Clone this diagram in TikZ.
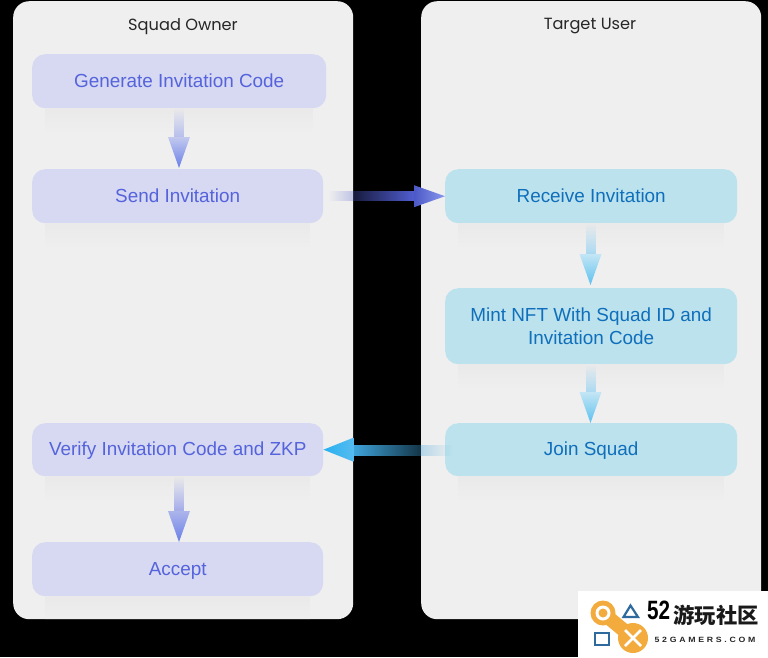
\documentclass[tikz,border=0pt]{standalone}
\usepackage{fontspec}
\setmainfont{Liberation Sans}
\newfontfamily\headfont{Poppins}
\newfontfamily\cjkfont{Noto Sans CJK SC}
\usetikzlibrary{calc,fadings}
\definecolor{panelc}{HTML}{EFEFEF}
\definecolor{lavc}{HTML}{D6D9F1}
\definecolor{lavt}{HTML}{5563DC}
\definecolor{cyc}{HTML}{BCE2ED}
\definecolor{cyt}{HTML}{0F6FBB}
\definecolor{orangec}{HTML}{F2AB3C}
\definecolor{bluec}{HTML}{2F6A9E}
\definecolor{lshaft}{HTML}{B4BCEC}
\definecolor{ltop}{HTML}{C2C9EE}
\definecolor{lbot}{HTML}{6A7FE8}
\definecolor{cshaft}{HTML}{A8D8F2}
\definecolor{ctop}{HTML}{C4E6F4}
\definecolor{cbot}{HTML}{5CC0F0}
\definecolor{jshaft}{HTML}{3FA5DC}
\definecolor{jtip}{HTML}{28B0F0}
\definecolor{jbase}{HTML}{55BCF0}
\tikzset{
  x=1pt,y=-1pt,
  panelbox/.style={draw=none,fill=panelc,rounded corners=16pt,minimum width=340pt,minimum height=618pt,anchor=north west,inner sep=0pt},
  headlabel/.style={font=\headfont\fontsize{16.2}{19}\selectfont,text=black!85,inner sep=0pt},
  stepl/.style={fill=lavc,text=lavt,rounded corners=13pt,inner sep=0pt,anchor=north west,align=center,font=\fontsize{18.9}{23}\selectfont},
  stepc/.style={fill=cyc,text=cyt,rounded corners=13pt,inner sep=0pt,anchor=north west,align=center,font=\fontsize{18.9}{23}\selectfont},
}
\newcommand{\softshadow}[1]{%
  \fill[panelc!98!black,path fading=south] ($(#1.south west)+(13,0)$) rectangle ($(#1.south east)+(-13,24)$);}
\newcommand{\lowered}[2]{\raisebox{-#1pt}[14pt][4pt]{#2}}
% vertical arrow: axis coordinate, from, to, shaft colour, head top, head bottom, gap above target
\newcommand{\downarrowg}[7]{%
  \fill[#4,path fading=north] ($(#1 |- #2.south)+(-5,0)$) rectangle ($(#1 |- #3.north)+(5,-30-#7)$);
  \shade[top color=#5,bottom color=#6] ($(#1 |- #3.north)+(-11,-31-#7)$) -- ($(#1 |- #3.north)+(11,-31-#7)$) -- ($(#1 |- #3.north)+(0,-#7)$) -- cycle;}
\begin{document}
\begin{tikzpicture}
\useasboundingbox (0,0) rectangle (768,657);
\fill[black] (0,0) rectangle (768,657);
\node[panelbox] (ownerpanel) at (13,1) {};
\node[panelbox] (userpanel) at (421,1) {};
\node[headlabel] (ownerhead) at (183,26.5) {Squad Owner};
\node[headlabel] (userhead) at (590,26.5) {Target User};
\coordinate (laxis) at (179,0);
\coordinate (raxis) at (590.5,0);
\node[stepl,minimum width=294pt,minimum height=54pt] (gen) at (32,54) {Generate Invitation Code};
\node[stepl,minimum width=291pt,minimum height=54pt] (send) at (32,169) {Send Invitation};
\node[stepl,minimum width=291pt,minimum height=53pt] (verify) at (32,423) {\lowered{1}{Verify Invitation Code and ZKP}};
\node[stepl,minimum width=291pt,minimum height=54pt] (accept) at (32,542) {\lowered{1.5}{Accept}};
\node[stepc,minimum width=292pt,minimum height=54pt] (receive) at (445,169) {Receive Invitation};
\node[stepc,minimum width=292pt,minimum height=76pt] (mint) at (445,288) {Mint NFT With Squad ID and\\Invitation Code};
\node[stepc,minimum width=292pt,minimum height=53pt] (join) at (445,423) {\lowered{1}{Join Squad}};
\softshadow{gen}\softshadow{send}\softshadow{verify}\softshadow{accept}
\softshadow{receive}\softshadow{mint}\softshadow{join}
% vertical arrows
\downarrowg{laxis}{gen}{send}{lshaft}{ltop}{lbot}{1}
\downarrowg{laxis}{verify}{accept}{lshaft!80!lavt}{ltop!80!lavt}{lbot}{0}
\downarrowg{raxis}{receive}{mint}{cshaft}{ctop}{cbot}{3}
\downarrowg{raxis}{mint}{join}{cshaft}{ctop}{cbot}{0}
% send -> receive
\fill[lavt!95!black,path fading=west] ($(send.east)+(5,-5)$) rectangle ($(receive.west)+(-31,5)$);
\shade[left color=lavt!90!black,right color=lbot!80!white] ($(receive.west)+(-31,-11)$) -- (receive.west) -- ($(receive.west)+(-31,11)$) -- cycle;
% join -> verify
\fill[jshaft,path fading=east] ($(verify.east)+(30,-5)$) rectangle ($(join.west)+(8,6)$);
\shade[left color=jtip,right color=jbase] (verify.east) -- ($(verify.east)+(30,-12)$) -- ($(verify.east)+(30,12)$) -- cycle;
% logo
\fill[white] (578,591) rectangle (768,657);
\draw[orangec,line width=14pt] (603,613) -- (633,638);
\fill[orangec] (603,613) circle[radius=12.5];
\fill[orangec] (633,638) circle[radius=15];
\fill[white] (603,613) circle[radius=7.5];
\fill[orangec] (603,613) circle[radius=4.5];
\draw[white,line width=2.6pt] (625,630) -- (641,646) (641,630) -- (625,646);
\draw[bluec,line width=2.2pt] (630.5,605.5) -- (638,617) -- (623.5,617) -- cycle;
\draw[bluec,line width=2.4pt] (595,633) rectangle (609,645);
\node[inner sep=0pt,xscale=0.78,font=\bfseries\fontsize{26.5}{26}\selectfont,text=black] (logonum) at (658.5,610) {52};
\node[inner sep=0pt,font=\cjkfont\bfseries\fontsize{21.3}{22}\selectfont,text=black!90] (logocn) at (716,615.5) {游玩社区};
\node[inner sep=0pt,xscale=1.15,font=\bfseries\fontsize{7.6}{9}\selectfont,text=black!85] (logourl) at (705,639.5) {\addfontfeature{LetterSpace=31}52GAMERS.COM};
\end{tikzpicture}
\end{document}
